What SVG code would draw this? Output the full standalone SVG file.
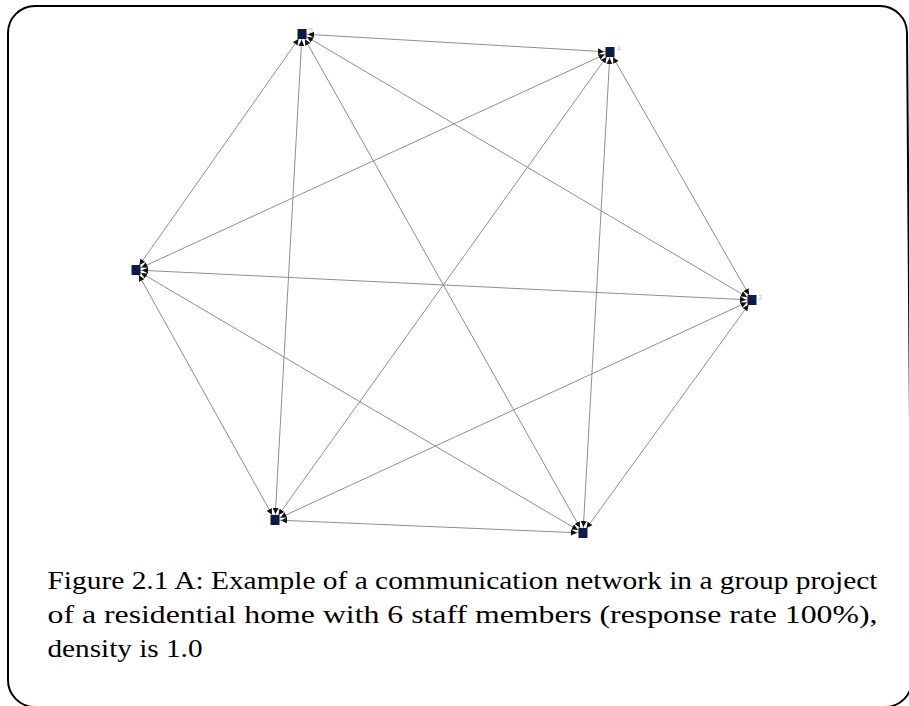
<svg xmlns="http://www.w3.org/2000/svg" width="909" height="706" viewBox="0 0 909 706">
  <style>
    .frame { fill: none; stroke: #000; stroke-width: 2; }
    .edge { stroke: #8f8f8f; stroke-width: 1; fill: none; marker-start: url(#tip); marker-end: url(#tip); }
    .node rect { fill: #0c1b4c; }
    .node text { font-family: "Liberation Sans", Arial, sans-serif; font-size: 7px; fill: #c4c4c4; }
    .caption { font-family: "Liberation Serif", "Times New Roman", serif; font-size: 26px; fill: #000; }
  </style>
  <defs>
    <marker id="tip" viewBox="0 0 6 6" markerWidth="6" markerHeight="6" markerUnits="userSpaceOnUse" refX="12" refY="3" orient="auto-start-reverse">
      <path d="M0,0 L6,3 L0,6 z" fill="#111"/>
    </marker>
  </defs>
  <rect width="909" height="706" fill="#fff"/>

  <!-- rounded frame -->
  <path class="frame" d="M35,6 H880 A27,27 0 0 1 907,33 L912,680 A27,27 0 0 1 885,707 H35 A27,27 0 0 1 8,680 V33 A27,27 0 0 1 35,6 Z"/>

  <!-- connectors: every pair of the six nodes, arrows both ways -->
  <g id="connectors">
    <line class="edge" x1="302" y1="34" x2="610" y2="52"/>
    <line class="edge" x1="302" y1="34" x2="136" y2="270"/>
    <line class="edge" x1="302" y1="34" x2="752" y2="300"/>
    <line class="edge" x1="302" y1="34" x2="275" y2="520"/>
    <line class="edge" x1="302" y1="34" x2="583" y2="533"/>
    <line class="edge" x1="610" y1="52" x2="136" y2="270"/>
    <line class="edge" x1="610" y1="52" x2="752" y2="300"/>
    <line class="edge" x1="610" y1="52" x2="275" y2="520"/>
    <line class="edge" x1="610" y1="52" x2="583" y2="533"/>
    <line class="edge" x1="136" y1="270" x2="752" y2="300"/>
    <line class="edge" x1="136" y1="270" x2="275" y2="520"/>
    <line class="edge" x1="136" y1="270" x2="583" y2="533"/>
    <line class="edge" x1="752" y1="300" x2="275" y2="520"/>
    <line class="edge" x1="752" y1="300" x2="583" y2="533"/>
    <line class="edge" x1="275" y1="520" x2="583" y2="533"/>
  </g>

  <!-- nodes -->
  <g id="node-5" class="node">
    <rect x="297.5" y="29" width="9" height="10"/>
    <text x="309" y="33">5</text>
  </g>
  <g id="node-4" class="node">
    <rect x="605.5" y="47" width="9" height="10"/>
    <text x="617" y="51">4</text>
  </g>
  <g id="node-6" class="node">
    <rect x="131.5" y="265" width="9" height="10"/>
  </g>
  <g id="node-3" class="node">
    <rect x="747.5" y="295" width="9" height="10"/>
    <text x="758" y="300">3</text>
  </g>
  <g id="node-2" class="node">
    <rect x="270.5" y="515" width="9" height="10"/>
  </g>
  <g id="node-1" class="node">
    <rect x="578.5" y="528" width="9" height="10"/>
  </g>

  <!-- caption, justified over two lines -->
  <g id="caption">
    <text class="caption" x="47.5" y="589" textLength="830" lengthAdjust="spacingAndGlyphs">Figure 2.1 A: Example of a communication network in a group project</text>
    <text class="caption" x="47.5" y="623" textLength="830" lengthAdjust="spacingAndGlyphs">of a residential home with 6 staff members (response rate 100%),</text>
    <text class="caption" x="47.5" y="657" textLength="155" lengthAdjust="spacingAndGlyphs">density is 1.0</text>
  </g>
</svg>
